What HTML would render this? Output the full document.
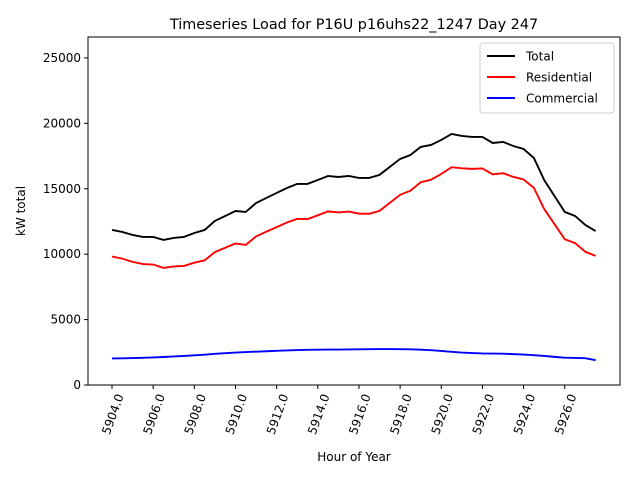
<!DOCTYPE html>
<html><head><meta charset="utf-8"><style>
body{margin:0;background:#fff;}
svg{font-family:"DejaVu Sans","Liberation Sans",sans-serif;}
</style></head><body>
<svg width="640" height="480">
<rect x="0" y="0" width="640" height="480" fill="#fff"/>
<g id="plot"></g>
<text x="354" y="29" font-size="14.4" text-anchor="middle">Timeseries Load for P16U p16uhs22_1247  Day 247</text>
<text x="354" y="461" font-size="12" text-anchor="middle">Hour of Year</text>
<text transform="translate(25,211) rotate(-90)" font-size="12" text-anchor="middle">kW total</text>
</svg>
<script>
const hours=[];for(let i=0;i<48;i++)hours.push(5904+i*0.5);
const total=[11850,11700,11470,11320,11320,11090,11240,11320,11620,11850,12540,12920,13300,13230,13910,14300,14680,15060,15370,15370,15670,15980,15900,15980,15830,15830,16060,16670,17280,17580,18200,18350,18730,19190,19040,18960,18960,18500,18580,18270,18040,17350,15670,14450,13230,12920,12230,11770];
const residential=[9820,9660,9410,9240,9210,8950,9060,9100,9350,9530,10160,10490,10820,10710,11360,11720,12070,12420,12700,12680,12970,13270,13190,13260,13100,13090,13310,13920,14540,14850,15500,15690,16130,16650,16560,16520,16550,16100,16190,15910,15710,15070,13450,12300,11140,10850,10180,9870];
const commercial=[2030,2040,2060,2080,2110,2140,2180,2220,2270,2320,2380,2430,2480,2520,2550,2580,2610,2640,2670,2690,2700,2710,2710,2720,2730,2740,2750,2750,2740,2730,2700,2660,2600,2540,2480,2440,2410,2400,2390,2360,2330,2280,2220,2150,2090,2070,2050,1900];
const xTicks=[5904,5906,5908,5910,5912,5914,5916,5918,5920,5922,5924,5926];
const yTicks=[0,5000,10000,15000,20000,25000];
const L=88,R=620,T=37,B=385;
const X=h=>112+(h-5904)*20.58;
const Y=v=>B-v*(B-T)/26600;
const NS='http://www.w3.org/2000/svg';
const g=document.getElementById('plot');
function mk(t,a){const e=document.createElementNS(NS,t);for(const k in a)e.setAttribute(k,a[k]);g.appendChild(e);return e;}
const fr=mk('rect',{x:L,y:T,width:R-L,height:B-T,fill:'none',stroke:'#000','stroke-width':1});


xTicks.forEach(t=>{const x=X(t);
const tk=mk('line',{x1:x,x2:x,y1:B,y2:B+4,stroke:'#000'});


const tx=mk('text',{x:0,y:0,'font-size':12,'text-anchor':'end',transform:`translate(${x+4},${B+8}) rotate(-70)`,dy:'0.7em'});
tx.textContent=t.toFixed(1);

});
yTicks.forEach(t=>{const y=Y(t);
const tk=mk('line',{x1:L-4,x2:L,y1:y,y2:y,stroke:'#000'});


const tx=mk('text',{x:L-7,y:y+4,'font-size':12,'text-anchor':'end'});
tx.textContent=t;

});
[[total,'#000','total-line'],[residential,'#f00','residential-line'],[commercial,'#00f','commercial-line']].forEach(([d,c,n])=>{
const p=mk('polyline',{points:d.map((v,i)=>X(hours[i])+','+Y(v)).join(' '),fill:'none',stroke:c,'stroke-width':1.9});

});
const lg=mk('rect',{x:480,y:43,width:134,height:70,fill:'#fff',stroke:'#ccc',rx:3});


[['Total','#000'],['Residential','#f00'],['Commercial','#00f']].forEach(([n,c],i)=>{const y=56+i*21;
const l=mk('line',{x1:487,x2:515,y1:y,y2:y,stroke:c,'stroke-width':1.9});


const t=mk('text',{x:526,y:y+4.5,'font-size':12});t.textContent=n;

});
</script>
</body></html>
